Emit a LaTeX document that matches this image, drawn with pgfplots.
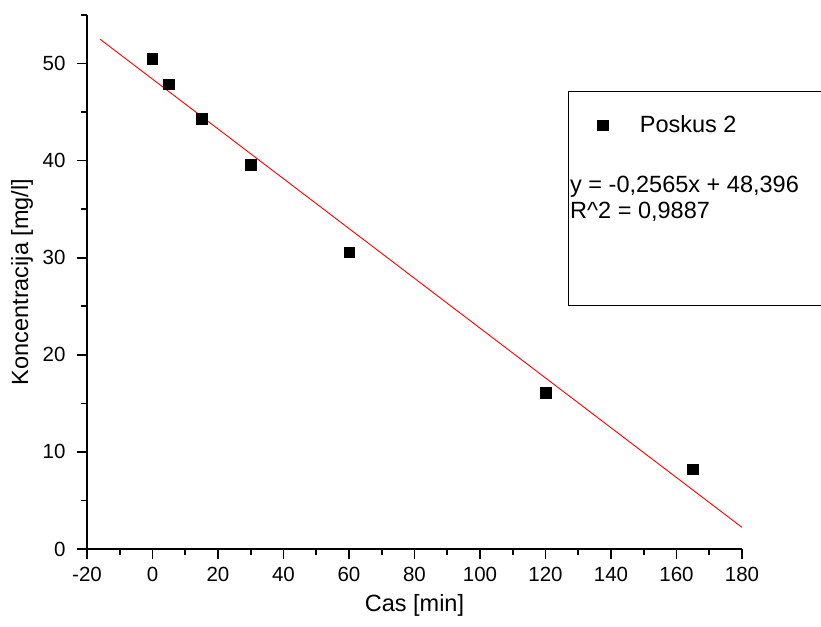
\documentclass[border=0pt]{standalone}
\usepackage{pgfplots}
\pgfplotsset{compat=1.18}
\usepackage{fontspec}
\setmainfont{Liberation Sans}

\newcommand{\tickfont}{\fontsize{20.5}{23}\selectfont}
\newcommand{\labelfont}{\fontsize{23.5}{27}\selectfont}

\begin{document}
\begin{tikzpicture}[x=1pt,y=1pt]
\useasboundingbox (-87,-77) rectangle (734,549);
\begin{axis}[
  at={(0,0)}, anchor=south west,
  scale only axis, width=655pt, height=534pt,
  xmin=-20, xmax=180, ymin=0, ymax=55,
  axis lines=left,
  axis line style={-, line width=1.6pt},
  xtick={-20,0,20,40,60,80,100,120,140,160,180},
  xticklabels={-20,0,20,40,60,80,100,120,140,160,180},
  minor xtick={-10,10,30,50,70,90,110,130,150,170},
  ytick={0,10,20,30,40,50},
  yticklabels={0,10,20,30,40,50},
  minor ytick={5,15,25,35,45,55},
  tick align=outside,
  major tick length=10pt, minor tick length=6pt,
  every tick/.style={black, line width=1.6pt},
  ticklabel style={font=\tickfont},
  xticklabel style={yshift=-5pt},
  yticklabel style={xshift=-8pt},
  xlabel={Cas [min]},
  ylabel={Koncentracija [mg/l]},
  label style={font=\labelfont},
  xlabel style={at={(axis description cs:0.5,-0.1049)}, anchor=center},
  ylabel style={at={(axis description cs:-0.0992,0.5)}, anchor=center},
  legend style={at={(rel axis cs:0.779,0.794)}, anchor=west, draw=none, fill=none,
    font=\labelfont, inner sep=0pt},
  legend cell align=left,
  legend image code/.code={\draw[mark=square*, mark size=5.2pt, black] plot coordinates {(0.3cm,0cm)};},
  clip=false,
]
% measured concentrations
\addplot[only marks, mark=square*, mark size=5.2pt, black] coordinates {
  (0,50.5) (5,47.9) (15,44.3) (30,39.6) (60,30.6) (120,16.1) (165,8.2)
};
\addlegendentry{\hspace{30pt}Poskus 2}
% linear fit y = -0.2565x + 48.396
\addplot[red, line width=0.9pt, forget plot] coordinates {(-16,52.500) (180,2.226)};
\end{axis}
% legend frame and fit equation
\draw[line width=1pt] (740,457) -- (481,457) -- (481,243) -- (740,243);
\node[anchor=west, inner sep=0pt, font=\labelfont] at (483,362) {y = -0,2565x + 48,396};
\node[anchor=west, inner sep=0pt, font=\labelfont] at (483,337) {R\string^2 = 0,9887};
\end{tikzpicture}
\end{document}
